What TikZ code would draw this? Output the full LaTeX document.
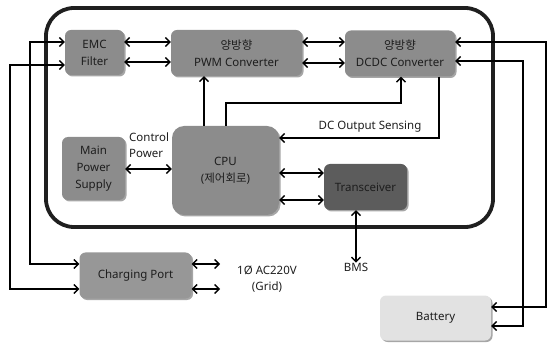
\documentclass[tikz,border=0pt]{standalone}
\usepackage{fontspec}
\setmainfont{Noto Sans}
\newfontfamily\kr{Noto Sans CJK KR}
\usetikzlibrary{arrows.meta,shadows}
\definecolor{boxgray}{HTML}{8C8C8C}
\definecolor{darkbox}{HTML}{5C5C5C}
\definecolor{lightbox}{HTML}{E2E2E2}
\definecolor{txt}{HTML}{1E1E1E}
\begin{document}
\begin{tikzpicture}[x=1pt,y=-1pt,
  box/.style={rounded corners=6pt, fill=boxgray, draw=none, align=center, inner sep=0pt,
    text=txt, font=\fontsize{11.5}{17}\selectfont,
    drop shadow={shadow xshift=1.5pt, shadow yshift=-1.5pt, opacity=0.35, fill=black}},
  lbl/.style={text=txt, font=\fontsize{11.5}{16}\selectfont, inner sep=0pt, align=center},
  tip/.tip={Straight Barb[length=4.5pt,width=9pt,line width=1.4pt]},
  bi/.style={line width=1.4pt, draw=black, tip-tip},
  uni/.style={line width=1.4pt, draw=black, -tip},
]
\useasboundingbox (0,0) rectangle (548,344);

% outer frame
\draw[line width=3.8pt, draw=black!88, rounded corners=28pt] (46,8) rectangle (493,227);

% boxes
\node[box, minimum width=59pt, minimum height=45pt] (emc) at (94.5,52.5) {EMC\\Filter};
\node[box, minimum width=131pt, minimum height=46pt] (pwm) at (236.5,53) {{\kr 양방향}\\PWM Converter};
\node[box, minimum width=110pt, minimum height=46pt] (dcdc) at (400,53.5) {{\kr 양방향}\\DCDC Converter};
\node[box, minimum width=63pt, minimum height=63pt] (mps) at (93.5,168.5) {Main\\Power\\Supply};
\node[box, rounded corners=12pt, minimum width=107pt, minimum height=89pt] (cpu) at (225.5,170.5) {CPU\\({\kr 제어회로})};
\node[box, fill=darkbox, minimum width=83pt, minimum height=46pt] (trx) at (365.5,187) {Transceiver};
\node[box, fill=boxgray!90!white, minimum width=112pt, minimum height=46pt] (chg) at (135.5,275.5) {Charging Port};
\node[box, fill=lightbox, minimum width=111pt, minimum height=45pt] (bat) at (435.5,318) {Battery};

% labels
\node[lbl, anchor=west, align=left] (cp) at (129,145) {Control\\Power};
\node[lbl] (dcs) at (370,127) {DC Output Sensing};
\node[lbl] (grid) at (267,279) {1Ø AC220V\\(Grid)};
\node[lbl] (bms) at (356,267) {BMS};

% EMC <-> PWM
\draw[bi] (emc.east |- 0,42) -- (pwm.west |- 0,42);
\draw[bi] (emc.east |- 0,62) -- (pwm.west |- 0,62);
% PWM <-> DCDC
\draw[bi] (pwm.east |- 0,42) -- (dcdc.west |- 0,42);
\draw[bi] (pwm.east |- 0,63) -- (dcdc.west |- 0,63);
% MPS <-> CPU
\draw[bi] (mps.east |- 0,169) -- (cpu.west |- 0,169);
% CPU <-> Transceiver
\draw[bi] (cpu.east |- 0,173) -- (trx.west |- 0,173);
\draw[bi] (cpu.east |- 0,200) -- (trx.west |- 0,200);
% CPU -> PWM
\draw[uni] (cpu.north -| 204,0) -- (pwm.south -| 204,0);
% CPU -> DCDC
\draw[uni] (cpu.north -| 226,0) -- (226,103) -- (401,103) -- (dcdc.south -| 401,0);
% DCDC -> CPU (DC output sensing)
\draw[uni] (dcdc.south -| 439,0) -- (439,138) -- (cpu.east |- 0,138);
% Transceiver <-> BMS
\draw[bi] (trx.south -| 356,0) -- (bms.north);

% Charging port <-> grid
\draw[bi] (chg.east |- 0,264) -- (220,264);
\draw[bi] (chg.east |- 0,289) -- (220,289);

% EMC <-> Charging Port (left loops)
\draw[bi] (emc.west |- 0,42) -- (30,42) -- (30,264) -- (chg.west |- 0,264);
\draw[bi] (emc.west |- 0,65) -- (10,65) -- (10,289) -- (chg.west |- 0,289);

% DCDC <-> Battery (right loops)
\draw[bi] (dcdc.east |- 0,42) -- (546,42) -- (546,307) -- (bat.east |- 0,307);
\draw[bi] (dcdc.east |- 0,61) -- (523,61) -- (523,326) -- (bat.east |- 0,326);
\end{tikzpicture}
\end{document}
